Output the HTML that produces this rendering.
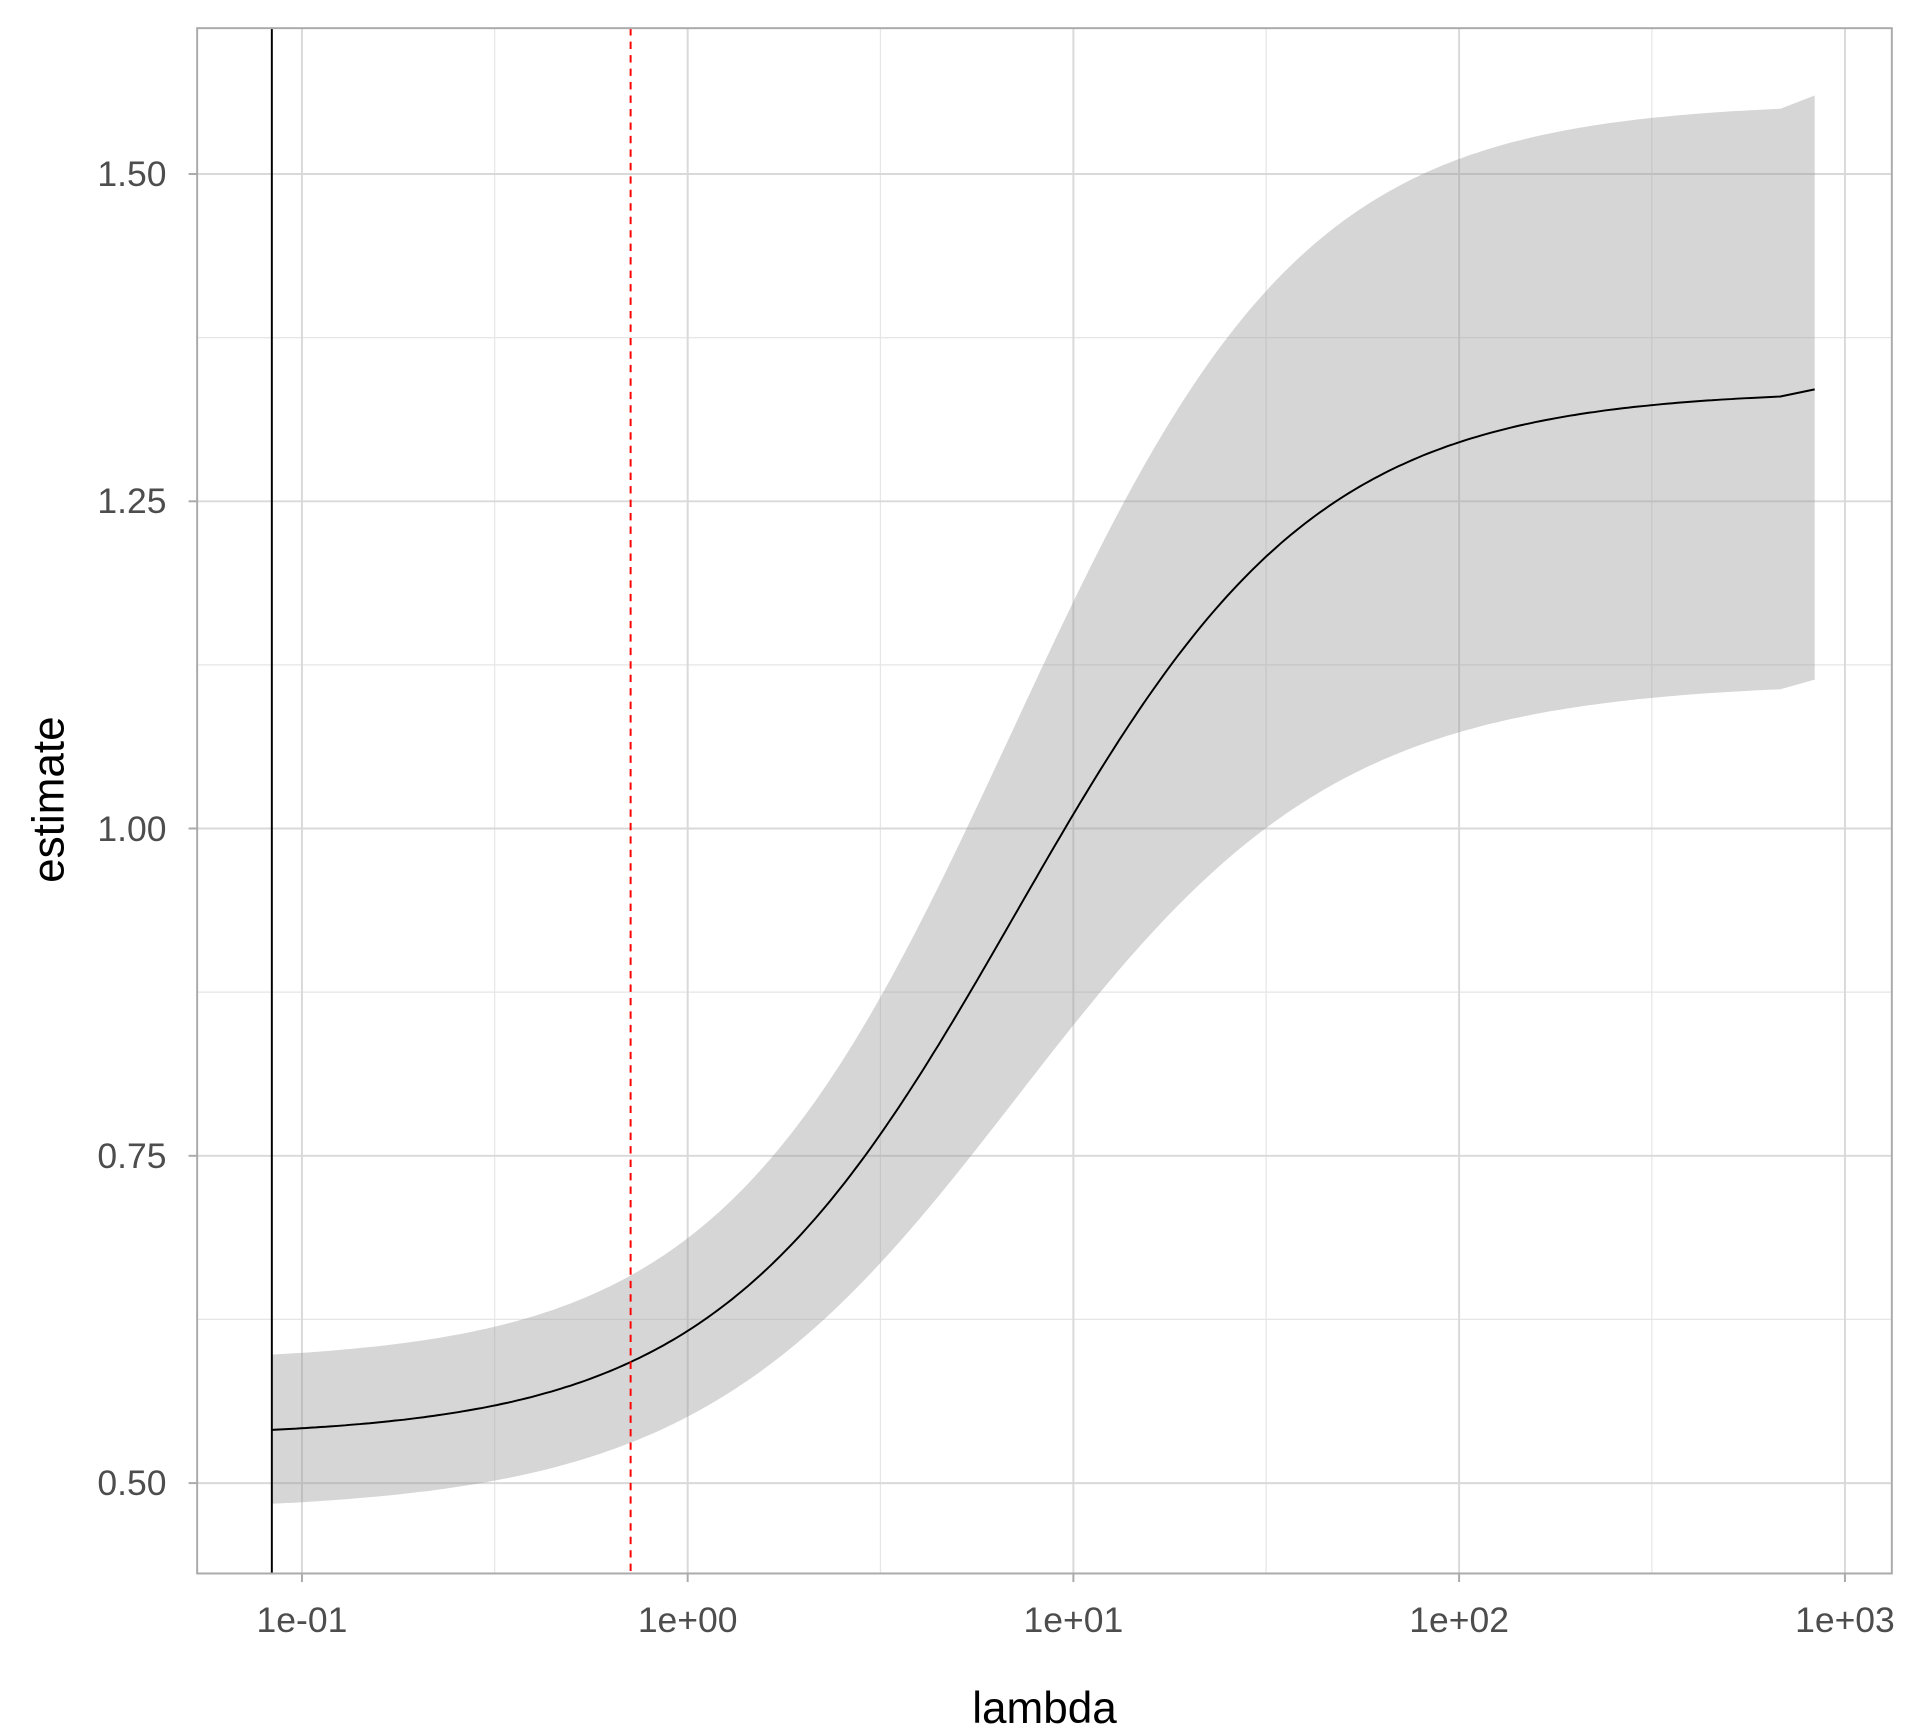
<!DOCTYPE html>
<html><head><meta charset="utf-8"><style>html,body{margin:0;padding:0;background:#fff}svg{display:block}</style></head>
<body>
<svg id="s" width="1920" height="1728" viewBox="0 0 1568 1411.2" xmlns="http://www.w3.org/2000/svg" font-family="Liberation Sans, Arial, sans-serif">
<rect x="0" y="0" width="1568" height="1411.2" fill="#fff"/>
<g stroke="#e6e6e6" stroke-width="1">
<line x1="161" x2="1545" y1="275.7" y2="275.7"/><line x1="161" x2="1545" y1="543" y2="543"/>
<line x1="161" x2="1545" y1="810.2" y2="810.2"/><line x1="161" x2="1545" y1="1077.5" y2="1077.5"/>
<line y1="23" y2="1285" x1="404" x2="404"/><line y1="23" y2="1285" x1="719" x2="719"/>
<line y1="23" y2="1285" x1="1034" x2="1034"/><line y1="23" y2="1285" x1="1349" x2="1349"/>
</g>
<g stroke="#d9d9d9" stroke-width="1.6">
<line x1="161" x2="1545" y1="142.1" y2="142.1"/><line x1="161" x2="1545" y1="409.4" y2="409.4"/>
<line x1="161" x2="1545" y1="676.6" y2="676.6"/><line x1="161" x2="1545" y1="943.9" y2="943.9"/>
<line x1="161" x2="1545" y1="1211.2" y2="1211.2"/>
<line y1="23" y2="1285" x1="246.6" x2="246.6"/><line y1="23" y2="1285" x1="561.6" x2="561.6"/>
<line y1="23" y2="1285" x1="876.6" x2="876.6"/><line y1="23" y2="1285" x1="1191.6" x2="1191.6"/>
<line y1="23" y2="1285" x1="1506.7" x2="1506.7"/>
</g>
<path id="band" fill="#999" fill-opacity="0.4" stroke="none"/>
<path id="curve" fill="none" stroke="#000" stroke-width="1.6"/>
<line x1="222" x2="222" y1="23" y2="1285" stroke="#000" stroke-width="1.6"/>
<line x1="515" x2="515" y1="23" y2="1285" stroke="#f00" stroke-width="1.6" stroke-dasharray="6,5"/>
<rect x="161" y="23" width="1384" height="1262" fill="none" stroke="#aaa" stroke-width="1.6"/>
<g stroke="#aaa" stroke-width="1.6">
<line x1="154" x2="161" y1="142.1" y2="142.1"/><line x1="154" x2="161" y1="409.4" y2="409.4"/>
<line x1="154" x2="161" y1="676.6" y2="676.6"/><line x1="154" x2="161" y1="943.9" y2="943.9"/>
<line x1="154" x2="161" y1="1211.2" y2="1211.2"/>
<line y1="1285" y2="1292" x1="246.6" x2="246.6"/><line y1="1285" y2="1292" x1="561.6" x2="561.6"/>
<line y1="1285" y2="1292" x1="876.6" x2="876.6"/><line y1="1285" y2="1292" x1="1191.6" x2="1191.6"/>
<line y1="1285" y2="1292" x1="1506.7" x2="1506.7"/>
</g>
<g fill="#4d4d4d" font-size="29" text-anchor="end">
<text x="136" y="152">1.50</text><text x="136" y="419">1.25</text><text x="136" y="687">1.00</text>
<text x="136" y="954">0.75</text><text x="136" y="1221">0.50</text>
</g>
<g fill="#4d4d4d" font-size="29" text-anchor="middle">
<text x="246.6" y="1333">1e-01</text><text x="561.6" y="1333">1e+00</text><text x="876.6" y="1333">1e+01</text>
<text x="1191.6" y="1333">1e+02</text><text x="1506.7" y="1333">1e+03</text>
</g>
<text x="853" y="1407" font-size="36" text-anchor="middle" fill="#000">lambda</text>
<text transform="translate(52,653) rotate(-90)" font-size="36" text-anchor="middle" fill="#000">estimate</text>
</svg>
<script>
function Y(v){return 1211.2-(v-0.5)*1069;}
function sig(t,lo,hi,t0,s){return lo+(hi-lo)/(1+Math.exp(-(t-t0)/s));}
var mid=[],up=[],lo=[];
for(var x=222;x<=1456;x+=4){var t=-1+(x-246.6)/315;
mid.push([x,Y(sig(t,0.535,1.335,0.85,0.39))]);
up.push([x,Y(sig(t,0.592,1.555,0.84,0.38))]);
lo.push([x,Y(sig(t,0.478,1.112,0.854,0.418))]);}
mid.push([1482,318]);up.push([1482,78]);lo.push([1482,555]);
function pl(p){return p.map(function(q,i){return (i?"L":"M")+q[0].toFixed(1)+","+q[1].toFixed(1);}).join(" ");}
document.getElementById("curve").setAttribute("d",pl(mid));
document.getElementById("band").setAttribute("d",pl(up)+" "+pl(lo.slice().reverse()).replace(/^M/,"L")+" Z");
</script>
</body></html>
